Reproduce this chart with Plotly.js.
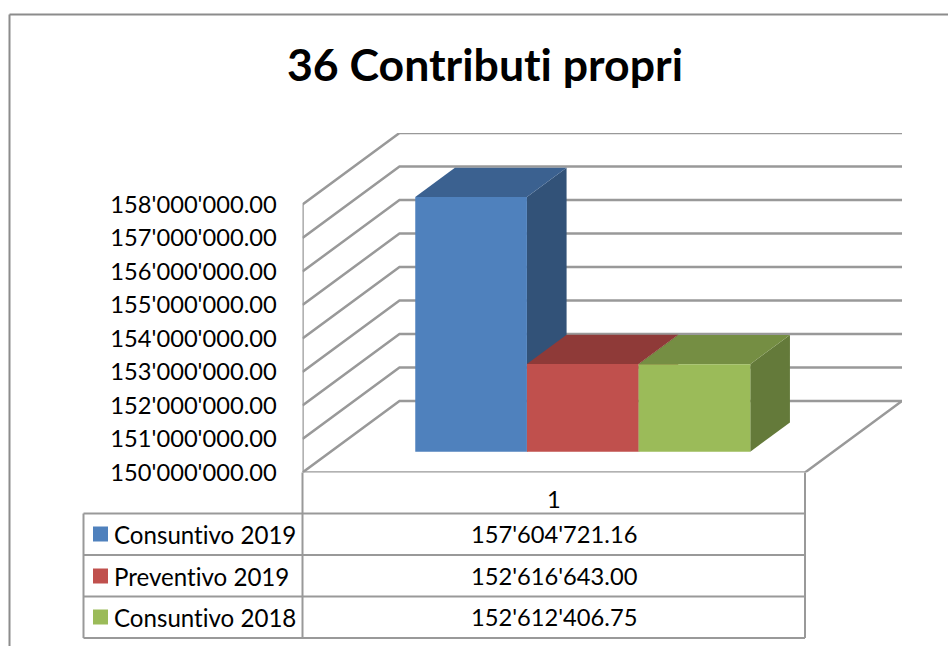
<!DOCTYPE html>
<html>
<head>
<meta charset="utf-8">
<script src="https://cdn.plot.ly/plotly-3.0.1.min.js"></script>
<style>html,body{margin:0;padding:0;background:#fff;overflow:hidden} svg text{font-variant-ligatures:none !important;font-feature-settings:"liga" 0,"clig" 0 !important}</style>
</head>
<body>
<div id="chart" style="width:948px;height:646px"></div>
<script>
const seriesNames = ["Consuntivo 2019", "Preventivo 2019", "Consuntivo 2018"];
const seriesValues = [157604721.16, 152616643.00, 152612406.75];
const seriesLabels = ["157'604'721.16", "152'616'643.00", "152'612'406.75"];
const categories = ["1"];
const frontColors = ["#4f81bd", "#c0504d", "#9bbb59"];
const topColors = ["#3b6190", "#8f3a38", "#758e43"];
const sideColors = ["#325278", "#7a3230", "#647a3a"];
const tickValues = [150e6,151e6,152e6,153e6,154e6,155e6,156e6,157e6,158e6];

const W = 948, H = 646;
const FONT = "Lato, Carlito, Calibri, sans-serif";
const GRID = "#999999";
const TXT = 23.7;
// oblique projection, in axis units
const plotL = 302.5, plotR = 902, plotB = 472.5, plotT = 133;
const unitX = 111.7, unitY = 33.5 / 1e6;
const depthX = 97 / unitX, depthY = 71.5 / unitY;
const floorW = 4.5, gap = 0.757, baseV = 150e6;
const barD0 = 0.291, barD1 = 0.70;
const px = v => v / W, py = v => 1 - v / H;

const P = (x, v, d) => [x + d * depthX, v + d * depthY];
function poly(pts, color) {
  const c = pts.concat([pts[0]]);
  return {type:"scatter", mode:"lines", x:c.map(p=>p[0]), y:c.map(p=>p[1]), fill:"toself",
    fillcolor:color, line:{width:0, color:color}, hoverinfo:"skip", showlegend:false, cliponaxis:false};
}
function line(pts) {
  return {type:"scatter", mode:"lines", x:pts.map(p=>p[0]), y:pts.map(p=>p[1]),
    line:{width:2.5, color:GRID}, hoverinfo:"skip", showlegend:false, cliponaxis:false};
}
const traces = [];
tickValues.forEach(v => traces.push(line([P(0,v,0), P(0,v,1), P(floorW,v,1)])));
traces.push(line([P(0,baseV,0), P(0,tickValues[tickValues.length-1],0)]));
traces.push(line([P(0,baseV,0), P(floorW,baseV,0), P(floorW,baseV,1)]));
seriesValues.forEach((v,i) => {
  const a = gap + i, b = a + 1;
  traces.push(poly([P(b,baseV,barD0),P(b,baseV,barD1),P(b,v,barD1),P(b,v,barD0)], sideColors[i]));
  traces.push(poly([P(a,v,barD0),P(b,v,barD0),P(b,v,barD1),P(a,v,barD1)], topColors[i]));
  traces.push(poly([P(a,baseV,barD0),P(b,baseV,barD0),P(b,v,barD0),P(a,v,barD0)], frontColors[i]));
});
const rule = (x0,y0,x1,y1,color,width) => ({type:"line",xref:"paper",yref:"paper",x0:px(x0),x1:px(x1),y0:py(y0),y1:py(y1),line:{color:color,width:width}});
const rows = [534, 576, 617];
const shapes = [
  rule(9.5,14.5,9.5,646,"#8c8c8c",2),
  rule(9.5,14.5,948,14.5,"#8c8c8c",2),
  rule(302.5,472.5,302.5,638,GRID,2),
  rule(805,472.5,805,638,GRID,2),
  rule(83.5,513.5,83.5,638,GRID,2),
  rule(83.5,513.5,805,513.5,GRID,2),
  rule(83.5,555,805,555,GRID,2),
  rule(83.5,596.5,805,596.5,GRID,2),
  rule(83.5,638,805,638,GRID,2)
];
rows.forEach((c,i) => shapes.push({type:"rect",xref:"paper",yref:"paper",layer:"above",
  x0:px(93),x1:px(108),y0:py(c-7.5),y1:py(c+7.5),fillcolor:frontColors[i],line:{width:0}}));
const annotations = [];
rows.forEach((c,i) => {
  annotations.push({xref:"paper",yref:"paper",x:px(112),y:py(c),xanchor:"left",yanchor:"middle",showarrow:false,
    text:seriesNames[i],font:{family:FONT,size:24.1,color:"#000"}});
  annotations.push({xref:"paper",yref:"paper",x:px(554),y:py(c),xanchor:"center",yanchor:"middle",showarrow:false,
    text:seriesLabels[i],font:{family:FONT,size:TXT,color:"#000"}});
});

const layout = {
  width:W, height:H, margin:{l:0,r:0,t:0,b:0,pad:0}, paper_bgcolor:"#fff", plot_bgcolor:"rgba(0,0,0,0)",
  separators:".'", showlegend:false, font:{family:FONT,color:"#000"},
  title:{text:"<b>36 Contributi propri</b>", font:{family:FONT,size:44.6,color:"#000"}, x:485/W, xanchor:"center", y:1-65/H, yanchor:"middle"},
  xaxis:{domain:[px(plotL),px(plotR)], range:[0,floorW+depthX], showgrid:false, zeroline:false, showline:false,
    tickmode:"array", tickvals:[floorW/2], ticktext:categories, ticks:"outside", ticklen:6, tickcolor:"rgba(0,0,0,0)",
    tickfont:{family:FONT,size:TXT,color:"#000"}},
  yaxis:{domain:[py(plotB),py(plotT)], range:[baseV,158e6+depthY], showgrid:false, zeroline:false, showline:false,
    tickmode:"array", tickvals:tickValues, tickformat:",.2f", ticks:"outside", ticklen:20, tickcolor:"rgba(0,0,0,0)",
    tickfont:{family:FONT,size:TXT,color:"#000"}},
  shapes:shapes, annotations:annotations
};
Plotly.newPlot("chart", traces, layout, {displayModeBar:false, staticPlot:true});
</script>
</body>
</html>
